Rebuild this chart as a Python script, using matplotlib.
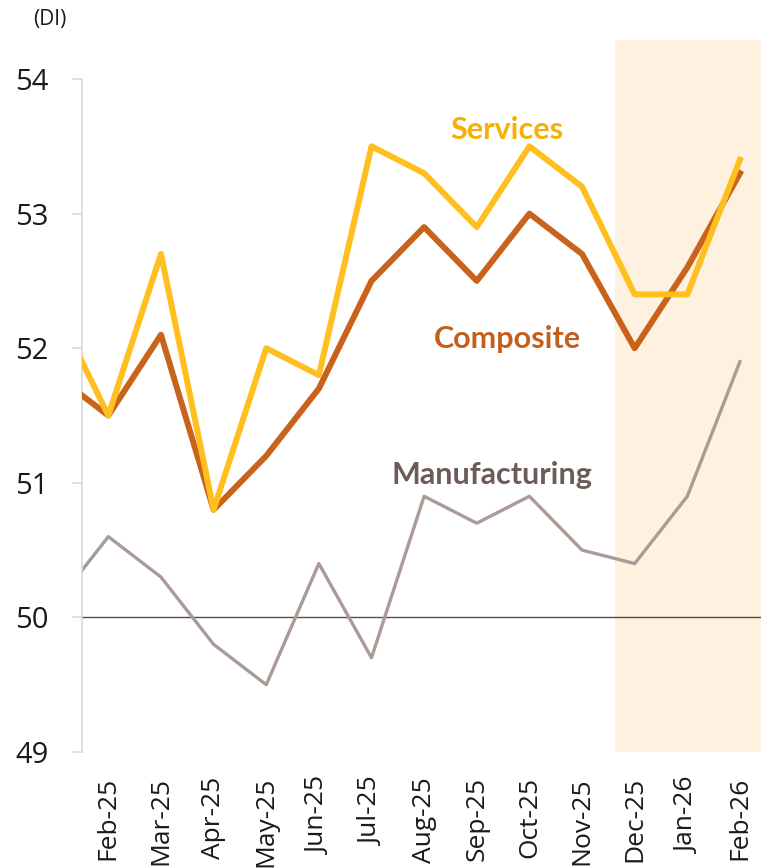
import matplotlib.pyplot as plt

# monthly PMI diffusion indices (Jan-25 sits just left of the axis and is clipped)
months = ['Jan-25', 'Feb-25', 'Mar-25', 'Apr-25', 'May-25', 'Jun-25', 'Jul-25',
          'Aug-25', 'Sep-25', 'Oct-25', 'Nov-25', 'Dec-25', 'Jan-26', 'Feb-26']
services = [52.3, 51.5, 52.7, 50.8, 52.0, 51.8, 53.5, 53.3, 52.9, 53.5, 53.2, 52.4, 52.4, 53.4]
composite = [51.8, 51.5, 52.1, 50.8, 51.2, 51.7, 52.5, 52.9, 52.5, 53.0, 52.7, 52.0, 52.6, 53.3]
manufacturing = [50.1, 50.6, 50.3, 49.8, 49.5, 50.4, 49.7, 50.9, 50.7, 50.9, 50.5, 50.4, 50.9, 51.9]
yticks = [49, 50, 51, 52, 53, 54]

x = list(range(-1, len(months) - 1))

plt.rcParams['font.family'] = ['Open Sans', 'DejaVu Sans']

fig = plt.figure(figsize=(7.64, 8.68), dpi=100)
ax = fig.add_axes([82 / 764, 1 - 752 / 868, (761 - 82) / 764, (752 - 40) / 868])

ax.axvspan(9.62, 12.4, color='#fef1df', lw=0, zorder=0)
ax.axhline(50, color='#5b4b49', lw=1.0, zorder=1)

ax.plot(x, manufacturing, color='#ab9b97', lw=2.4, zorder=2)
ax.plot(x, composite, color='#c9621a', lw=4.3, zorder=3)
ax.plot(x, services, color='#ffbf1f', lw=4.3, zorder=4)

label_font = ['Lato', 'DejaVu Sans']
ax.text(7.58, 53.62, 'Services', color='#f6b000', fontsize=22, fontweight='bold',
        family=label_font, ha='center', va='center')
ax.text(7.58, 52.07, 'Composite', color='#c45f1b', fontsize=22, fontweight='bold',
        family=label_font, ha='center', va='center')
ax.text(7.28, 51.06, 'Manufacturing', color='#6c5b59', fontsize=22, fontweight='bold',
        family=label_font, ha='center', va='center')

ax.set_xlim(-0.5, 12.4)
ax.set_ylim(49, 54.29)
ax.set_yticks(yticks)
ax.set_yticklabels([str(v) for v in yticks])
ax.set_xticks(x[1:])
ax.set_xticklabels(months[1:], rotation=90)

for side in ['top', 'right', 'bottom']:
    ax.spines[side].set_visible(False)
ax.spines['left'].set_color('#d9d9d9')
ax.spines['left'].set_linewidth(1.2)
ax.spines['left'].set_bounds(49, 54)

ax.tick_params(axis='y', length=7.2, width=1.2, color='#d9d9d9', pad=17,
               labelsize=21, labelcolor='#1a1a1a')
ax.tick_params(axis='x', length=0, pad=18, labelsize=19, labelcolor='#1a1a1a')

fig.text(50 / 764, 1 - 20 / 868, '(DI)', fontsize=15, color='#1a1a1a',
         ha='center', va='center')

fig.savefig('out.png', dpi=100)
